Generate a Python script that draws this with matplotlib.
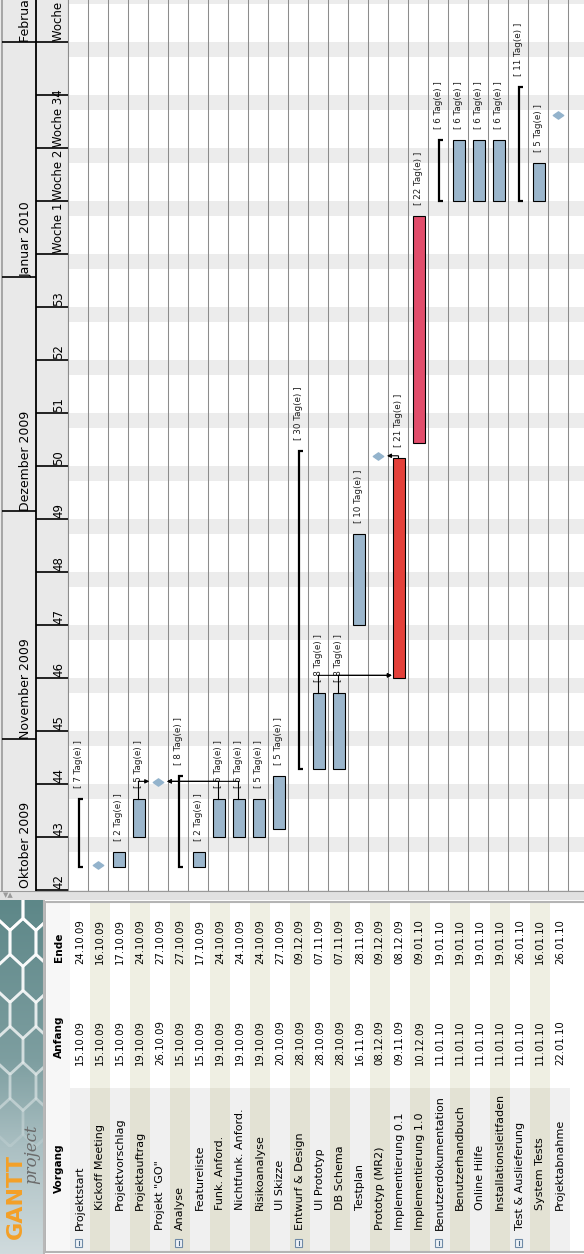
import numpy as np
import pandas as pd
import matplotlib
matplotlib.use("Agg")
import matplotlib.pyplot as plt
import matplotlib.dates as mdates
from matplotlib.patches import Rectangle, RegularPolygon
from matplotlib.path import Path
from matplotlib.colors import LinearSegmentedColormap

W, H = 584, 1254

# --- task data ---
names = ["Projektstart", "Kickoff Meeting", "Projektvorschlag", "Projektauftrag",
         'Projekt "GO"', "Analyse", "Featureliste", "Funk. Anford.",
         "Nichtfunk. Anford.", "Risikoanalyse", "UI Skizze", "Entwurf & Design",
         "UI Prototyp", "DB Schema", "Testplan", "Prototyp (MR2)",
         "Implementierung 0.1", "Implementierung 1.0", "Benutzerdokumentation",
         "Benutzerhandbuch", "Online Hilfe", "Installationsleitfaden",
         "Test & Auslieferung", "System Tests", "Projektabnahme"]
starts = ["15.10.09", "15.10.09", "15.10.09", "19.10.09", "26.10.09", "15.10.09",
          "15.10.09", "19.10.09", "19.10.09", "19.10.09", "20.10.09", "28.10.09",
          "28.10.09", "28.10.09", "16.11.09", "08.12.09", "09.11.09", "10.12.09",
          "11.01.10", "11.01.10", "11.01.10", "11.01.10", "11.01.10", "11.01.10",
          "22.01.10"]
ends = ["24.10.09", "16.10.09", "17.10.09", "24.10.09", "27.10.09", "27.10.09",
        "17.10.09", "24.10.09", "24.10.09", "24.10.09", "27.10.09", "09.12.09",
        "07.11.09", "07.11.09", "28.11.09", "09.12.09", "08.12.09", "09.01.10",
        "19.01.10", "19.01.10", "19.01.10", "19.01.10", "26.01.10", "16.01.10",
        "26.01.10"]
kinds = ["summary", "milestone", "task", "task", "milestone", "summary", "task",
         "task", "task", "task", "task", "summary", "task", "task", "task",
         "milestone", "task", "task", "summary", "task", "task", "task",
         "summary", "task", "milestone"]
work_days = [7, None, 2, 5, None, 8, 2, 5, 5, 5, 5, 30, 8, 8, 10, None, 21, 22,
             6, 6, 6, 6, 11, 5, None]
levels = [0, 1, 1, 1, 0, 0, 1, 1, 1, 1, 1, 0, 1, 1, 1, 0, 0, 0, 0, 1, 1, 1, 0, 1, 1]
critical = {16: "#e3403a", 17: "#e14d6b"}
deps = [(3, 4), (7, 4), (8, 4), (12, 16), (13, 16), (16, 15)]

month_starts = ["01.10.09", "01.11.09", "01.12.09", "01.01.10", "01.02.10"]
month_labels = ["Oktober 2009", "November 2009", "Dezember 2009", "Januar 2010",
                "Februar 2010"]
week_labels = ["42", "43", "44", "45", "46", "47", "48", "49", "50", "51", "52",
               "53", "Woche 1", "Woche 2", "Woche 34", "", "Woche 5"]


def to_num(vals):
    return mdates.date2num(pd.to_datetime(vals, format="%d.%m.%y"))


start_num = to_num(starts)
end_num = to_num(ends)
mondays = mdates.date2num(pd.date_range("2009-10-12", periods=len(week_labels), freq="7D"))
month_num = to_num(month_starts)
saturdays = mdates.date2num(pd.date_range("2009-10-10", "2010-02-07", freq="7D"))

ppd = 53 / 7  # pixels per day in the screenshot
y_lo = mondays[0] - 1 / ppd
y_hi = y_lo + 891 / ppd

fig = plt.figure(figsize=(W / 100, H / 100), dpi=100)
fig.patch.set_facecolor("white")


def px_axes(x0, y0, x1, y1):
    a = fig.add_axes([x0 / W, 1 - y1 / H, (x1 - x0) / W, (y1 - y0) / H])
    a.set_axis_off()
    return a


# --- gantt area ---
ax = px_axes(68.3, 0, W, 891)
ax.set_xlim(0, (W - 68.3) / 20)
ax.set_ylim(y_lo, y_hi)
ax.add_patch(Rectangle((0, y_lo), 30, y_hi - y_lo, color="white", zorder=0))
for s in saturdays:
    ax.axhspan(s, s + 2, color="#ececec", lw=0, zorder=1)
for i in range(26):
    ax.axvline(i, color="#8c8c8c", lw=0.75, zorder=2)

rows = np.arange(len(names))
is_task = np.array([k == "task" for k in kinds])
bar_colors = [critical.get(i, "#9bb6cc") for i in rows[is_task]]
ax.bar(rows[is_task] + 0.215, (end_num - start_num)[is_task], bottom=start_num[is_task],
       width=0.6, align="edge", color=bar_colors, edgecolor="black", lw=0.8, zorder=4)

for i in rows[[k == "summary" for k in kinds]]:
    ax.plot([i + 0.75, i + 0.55, i + 0.55, i + 0.75],
            [end_num[i], end_num[i], start_num[i], start_num[i]],
            color="black", lw=1.6, solid_joinstyle="miter", solid_capstyle="butt", zorder=4)

diamond = Path([(-1, 0), (0, 0.7), (1, 0), (0, -0.7), (-1, 0)],
               [Path.MOVETO, Path.LINETO, Path.LINETO, Path.LINETO, Path.CLOSEPOLY])
ms_rows = rows[[k == "milestone" for k in kinds]]
ax.plot(ms_rows + 0.5, start_num[ms_rows] + 0.3, ls="none", marker=diamond,
        ms=7.5, color="#93b3cc", zorder=5)

for i, d in enumerate(work_days):
    if d is None:
        continue
    ax.text(i + 0.5, end_num[i] + 11 / ppd, f"[ {d} Tag(e) ]", rotation=90,
            ha="center", va="bottom", fontsize=6.3, color="#1e1e1e", zorder=3)

for src, dst in deps:
    x0 = src + 0.5
    yd = start_num[dst] + 0.35
    if dst > src:
        tip = dst + (0.05 if kinds[dst] == "milestone" else 0.18)
    else:
        tip = dst + 0.93
    ax.plot([x0, x0], [end_num[src], yd], color="black", lw=0.8, zorder=6)
    ax.annotate("", xy=(tip, yd), xytext=(x0, yd),
                arrowprops=dict(arrowstyle="-|>", color="black", lw=0.8,
                                mutation_scale=6, shrinkA=0, shrinkB=0), zorder=6)

# --- timeline header ---
hd = px_axes(0, 0, 68.3, 891)
hd.set_xlim(0, 68.3)
hd.set_ylim(y_lo, y_hi)
hd.add_patch(Rectangle((0, y_lo), 68.3, y_hi - y_lo, color="#e9e9e9", zorder=0))
hd.axvline(1.5, color="#9a9a9a", lw=1.2)
hd.axvline(35.5, color="black", lw=1.3)
hd.axvline(67.5, color="#c4c4c4", lw=1)
hd.hlines(month_num, 2, 35.5, color="black", lw=1.2)
hd.hlines(mondays, 35.5, 67.5, color="black", lw=1.2)
for m, lbl in zip(month_num, month_labels):
    hd.text(26, max(m, y_lo + 2.5 / ppd), lbl, rotation=90, ha="center",
            va="bottom", fontsize=9, clip_on=True)
for m, lbl in zip(mondays, week_labels):
    hd.text(58.5, m + 0.15, lbl, rotation=90, ha="center", va="bottom",
            fontsize=8.5, clip_on=True)

# --- splitter ---
sp = px_axes(0, 891, W, 900)
sp.set_xlim(0, W)
sp.set_ylim(0, 9)
sp.add_patch(Rectangle((0, 0), W, 9, color="#e1e1e1"))
sp.axhline(8.6, color="#9a9a9a", lw=0.8)
sp.text(3, 4.5, "\u25bc\u25b2", fontsize=5, color="#9a9a9a", va="center")

# --- task table ---
tab = px_axes(0, 900, W, H)
tab.set_xlim(-69.8 / 20, (W - 69.8) / 20)
tab.set_ylim(H, 900)
even = rows % 2 == 0
tab.add_patch(Rectangle((-1.16, 903), 1.16, 348, color="#f7f7f7", zorder=0))
tab.bar(rows, 1088 - 903, bottom=903, width=1, align="edge",
        color=np.where(even, "white", "#efefe3"), zorder=1)
tab.bar(rows, 1251 - 1088, bottom=1088, width=1, align="edge",
        color=np.where(even, "#f0f0f0", "#e3e2d4"), zorder=1)
tab.hlines([901.5, 1252], -1.22, (W - 69.8) / 20, color="#b4b4b4", lw=1.5, zorder=2)
tab.vlines(-1.22, 901.5, 1252, color="#b4b4b4", lw=1.5, zorder=2)

for lbl, yb in zip(["Vorgang", "Anfang", "Ende"], [1193, 1058, 962]):
    tab.text(-0.55, yb, lbl, rotation=90, ha="center", va="bottom",
             fontsize=7.6, fontweight="bold", zorder=3)
for i in rows:
    tab.text(i + 0.5, 1230 if levels[i] == 0 else 1210, names[i], rotation=90,
             ha="center", va="bottom", fontsize=8, zorder=3)
    tab.text(i + 0.5, 1065, starts[i], rotation=90, ha="center", va="bottom",
             fontsize=7.3, zorder=3)
    tab.text(i + 0.5, 963.5, ends[i], rotation=90, ha="center", va="bottom",
             fontsize=7.3, zorder=3)
    if kinds[i] == "summary":
        tab.add_patch(Rectangle((i + 0.25, 1239), 0.38, 8, fc="#eef2f7",
                                ec="#6f8aa6", lw=0.8, zorder=3))
        tab.plot([i + 0.44, i + 0.44], [1241, 1245], color="#4d6a88", lw=0.8, zorder=4)

# --- logo (y units are stretched so the honeycomb looks tall) ---
lg = px_axes(0, 900, 44.5, H)
stretch = 1.6
lg.set_xlim(0, 44.5)
lg.set_ylim(354 / stretch, 0)
cmap = LinearSegmentedColormap.from_list(
    "logo", [(0, "#5d8788"), (0.45, "#7d9ea0"), (0.7, "#abc0c3"), (1, "#d0dbdd")])
lg.imshow(np.linspace(0, 1, 256)[:, None], cmap=cmap, aspect="auto",
          extent=(0, 44.5, 354 / stretch, 0), zorder=0)
R = 15
for r in range(0, 8):
    for c in range(-1, 3):
        cx = c * np.sqrt(3) * R + (r % 2) * np.sqrt(3) * R / 2 + 10
        cy = r * 1.5 * R + 4
        fade = np.clip(1.0 - (cy * stretch) / 260, 0, 0.95)
        if fade <= 0:
            continue
        lg.add_patch(RegularPolygon((cx, cy), 6, radius=R, orientation=0,
                                    fill=False, ec="white", lw=2.0, alpha=fade,
                                    zorder=1))
lg.text(15.5, 1239 / stretch - 900 / stretch, "GANTT", rotation=90, ha="center",
        va="bottom", fontsize=16, fontweight="bold", color="#f4a027", zorder=3)
lg.text(32, 1184 / stretch - 900 / stretch, "project", rotation=90, ha="center",
        va="bottom", fontsize=12, family="DejaVu Serif", style="italic",
        color="#6a6a6a", zorder=3)
lg.axvline(44, color="#b8b8b8", lw=1.5)

fig.savefig("out.png", dpi=100)
